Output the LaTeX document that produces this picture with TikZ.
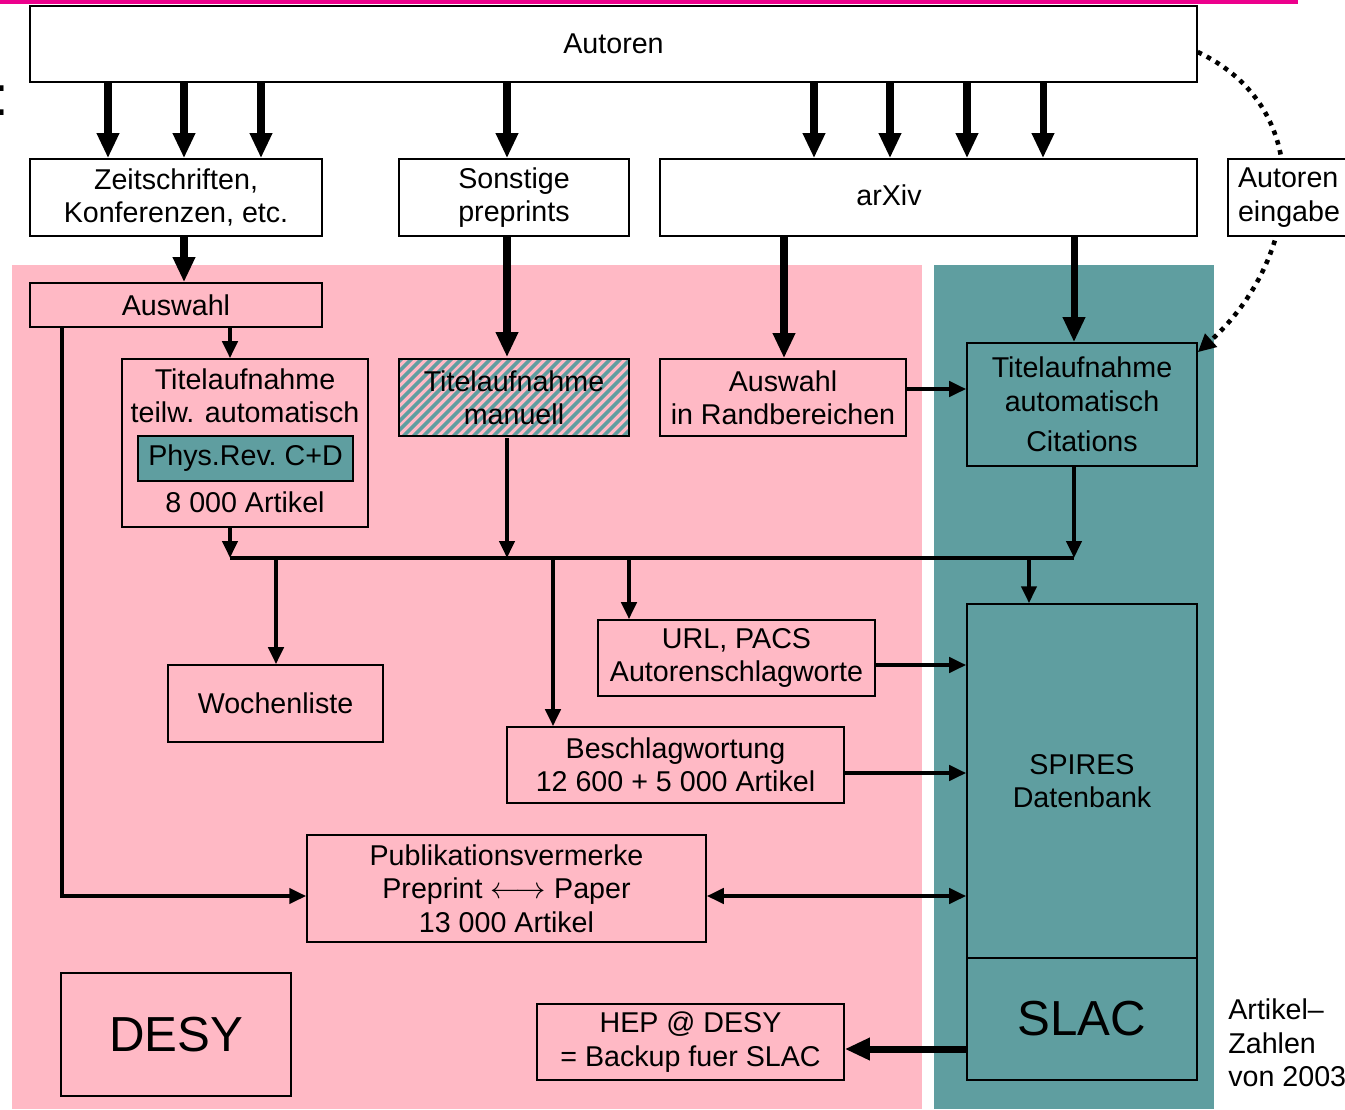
\documentclass[tikz,border=0pt]{standalone}
\usepackage{fontspec}
\setmainfont{Liberation Sans}
\usetikzlibrary{arrows.meta,patterns.meta}
\definecolor{desypink}{RGB}{255,185,197}
\definecolor{slacteal}{RGB}{95,158,160}
\tikzset{
  txt/.style={align=center, inner sep=0pt, font=\fontsize{16.3}{19}\selectfont},
  box/.style={txt, draw, line width=0.9pt},
  whitebox/.style={box, fill=white},
  pinkbox/.style={box, fill=desypink},
  tealbox/.style={box, fill=slacteal},
  big/.style={font=\fontsize{28}{30}\selectfont},
  fat/.style={line width=4pt, -{Triangle[length=0.5cm,width=0.42cm]}},
  med/.style={line width=2.3pt, -{Triangle[length=0.34cm,width=0.3cm]}},
  medboth/.style={line width=2.3pt, {Triangle[length=0.34cm,width=0.3cm]}-{Triangle[length=0.34cm,width=0.3cm]}},
}
\begin{document}
\begin{tikzpicture}[x=0.02cm, y=-0.02cm]
\useasboundingbox (0,0) rectangle (1345,1109);
% Hintergrund DESY / SLAC
\fill[desypink] (12,265) rectangle (922,1109);
\fill[slacteal] (934,265) rectangle (1214,1109);
\draw[magenta, line width=2.4pt] (0,1.5) -- (1298,1.5);
\node[anchor=base, inner sep=0pt, font=\fontsize{32}{32}\selectfont] (colon) at (1.5,115) {:};

% Quellen
\node[whitebox, minimum width=23.34cm, minimum height=1.52cm] (autoren) at (613.5,44) {Autoren};
\node[whitebox, minimum width=5.84cm, minimum height=1.54cm] (zeit) at (176,197.5) {Zeitschriften,\\Konferenzen, etc.};
\node[whitebox, minimum width=4.6cm, minimum height=1.54cm] (sonst) at (514,197.5) {Sonstige\\preprints};
\node[whitebox, minimum width=10.74cm, minimum height=1.54cm] (arxiv) at (928.5,197.5) {};
\node[txt] (arxivtxt) at (889,195) {arXiv};

% DESY
\node[pinkbox, minimum width=5.84cm, minimum height=0.88cm] (auswahl) at (176,305) {Auswahl};
\node[pinkbox, minimum width=4.92cm, minimum height=3.36cm] (titelteil) at (245,443) {};
\node[txt] (teiltxt) at (245,396) {Titelaufnahme\\teilw. automatisch};
\node[tealbox, minimum width=4.3cm, minimum height=0.9cm] (physrev) at (245.5,458.5) {Phys.Rev.\ C+D};
\node[txt] (teilzahl) at (245,502) {8 000 Artikel};
\node[box, preaction={fill=desypink}, pattern={Lines[angle=45,distance=4pt,line width=2.1pt]}, pattern color=slacteal,
  minimum width=4.6cm, minimum height=1.54cm] (manuell) at (514,397.5) {Titelaufnahme\\manuell};
\node[pinkbox, minimum width=4.92cm, minimum height=1.54cm] (rand) at (783,397.5) {Auswahl\\in Randbereichen};
\node[pinkbox, minimum width=4.3cm, minimum height=1.54cm] (wochen) at (275.5,703.5) {Wochenliste};
\node[pinkbox, minimum width=5.54cm, minimum height=1.52cm] (url) at (736.5,658) {URL, PACS\\Autorenschlagworte};
\node[pinkbox, minimum width=6.74cm, minimum height=1.52cm] (besch) at (675.5,765) {Beschlagwortung\\12 600 + 5 000 Artikel};
\node[pinkbox, minimum width=7.98cm, minimum height=2.14cm] (publ) at (506.5,888.5) {Publikationsvermerke\\Preprint $\longleftrightarrow$ Paper\\13 000 Artikel};
\node[pinkbox, minimum width=6.14cm, minimum height=1.52cm] (hep) at (690.5,1042) {HEP @ DESY\\= Backup fuer SLAC};
\node[pinkbox, big, minimum width=4.6cm, minimum height=2.46cm] (desy) at (176,1034.5) {DESY};

% SLAC
\node[tealbox, minimum width=4.6cm, minimum height=2.46cm] (titelauto) at (1082,404.5) {Titelaufnahme\\automatisch\\[0.14cm]Citations};
\node[tealbox, minimum width=4.6cm, minimum height=7.08cm] (spires) at (1082,781) {SPIRES\\Datenbank};
\node[tealbox, big, minimum width=4.6cm, minimum height=2.44cm] (slac) at (1082,1019) {SLAC};
\node[txt, align=left, anchor=west] (zahlen) at (1228,1043) {Artikel--\\Zahlen\\von 2003};

% Autoreneingabe
\draw[line width=2.6pt, dash pattern=on 2.6pt off 3.2pt, -{Triangle[length=0.36cm,width=0.34cm]}]
  ([yshift=-0.16cm]autoren.east) .. controls (1320,110) and (1300,260) .. ([yshift=-0.2cm]titelauto.north east);
\node[whitebox, align=left, minimum width=2.44cm, minimum height=1.54cm] (eingabe) at (1289,197.5) {Autoren\\eingabe};

% Pfeile
\foreach \x in {108,184,261} \draw[fat] (\x,0 |- autoren.south) -- (\x,0 |- zeit.north);
\draw[fat] (507,0 |- autoren.south) -- (507,0 |- sonst.north);
\foreach \x in {814,890,967,1043} \draw[fat] (\x,0 |- autoren.south) -- (\x,0 |- arxiv.north);
\draw[fat] (184,0 |- zeit.south) -- (184,0 |- auswahl.north);
\draw[med] (230,0 |- auswahl.south) -- (230,0 |- titelteil.north);
\draw[med] (62,0 |- auswahl.south) |- ([yshift=-0.15cm]publ.west);
\draw[fat] (507,0 |- sonst.south) -- (507,0 |- manuell.north);
\draw[fat] (784,0 |- arxiv.south) -- (784,0 |- rand.north);
\draw[fat] (1074,0 |- arxiv.south) -- (1074,0 |- titelauto.north);
\draw[med] ([yshift=0.17cm]rand.east) -- ([yshift=0.17cm]rand.east -| titelauto.west);

% Sammelleitung
\coordinate (busL) at (230,558);
\coordinate (busR) at (1074,558);
\draw[line width=2.3pt] (busL) -- (busR);
\draw[med] (busL |- titelteil.south) -- (busL);
\draw[med] (507,0 |- manuell.south) -- (507,0 |- busL);
\draw[med] (busR |- titelauto.south) -- (busR);
\draw[med] (276,0 |- busL) -- (276,0 |- wochen.north);
\draw[med] (553,0 |- busL) -- (553,0 |- besch.north);
\draw[med] (629,0 |- busL) -- (629,0 |- url.north);
\draw[med] (1029,0 |- busL) -- (1029,0 |- spires.north);

\draw[med] ([yshift=-0.14cm]url.east) -- ([yshift=-0.14cm]url.east -| spires.west);
\draw[med] ([yshift=-0.16cm]besch.east) -- ([yshift=-0.16cm]besch.east -| spires.west);
\draw[medboth] ([yshift=-0.15cm]publ.east) -- ([yshift=-0.15cm]publ.east -| spires.west);
\draw[fat] ([yshift=-0.14cm]hep.east -| slac.west) -- ([yshift=-0.14cm]hep.east);
\end{tikzpicture}
\end{document}
